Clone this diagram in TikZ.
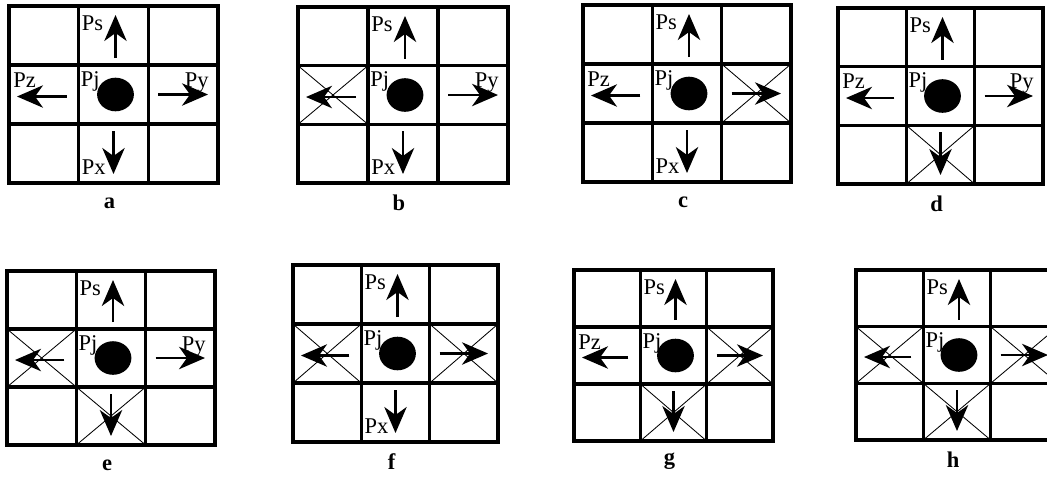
\documentclass[tikz,border=0pt]{standalone}
\usepackage{fontspec}
\setmainfont{Liberation Serif}
\usetikzlibrary{arrows.meta, shapes.geometric}

% one 3x3 panel: #1,#2 top left, #3 width, #4 height, #5 letter,
% #6 left cell blocked, #7 right cell blocked, #8 lower cell blocked
\newcommand{\panel}[8]{%
  \begin{scope}[shift={(#1,#2)}]
    \pgfmathsetmacro{\cw}{#3/3}
    \pgfmathsetmacro{\ch}{#4/3}
    \draw[gridline] (\cw,0) -- (\cw,#4) (2*\cw,0) -- (2*\cw,#4)
      (0,\ch) -- (#3,\ch) (0,2*\ch) -- (#3,2*\ch);
    \draw[frame] (0,0) rectangle (#3,#4);
    % Pj
    \node[dot] (#5-pj) at (1.5*\cw+2, 1.5*\ch) {};
    \node[lab, anchor=north west] (#5-pjl) at (\cw+2, \ch+6) {Pj};
    % Ps
    \node[lab, anchor=north west] (#5-psl) at (\cw+3, 9) {Ps};
    \coordinate (#5-s0) at (1.5*\cw+2, \ch-7);
    \coordinate (#5-s1) at (1.5*\cw+2, 9);
    \draw[move] (#5-s0) -- (#5-s1);
    % Pz
    \ifnum#6=1
      \draw[block] (0,\ch) -- (\cw,2*\ch) (0,2*\ch) -- (\cw,\ch);
    \else
      \node[lab, anchor=north west] (#5-pzl) at (4, \ch+7) {Pz};
    \fi
    \coordinate (#5-z0) at (\cw-12, 1.5*\ch+2);
    \coordinate (#5-z1) at (8, 1.5*\ch+2);
    \draw[move] (#5-z0) -- (#5-z1);
    % Py
    \ifnum#7=1
      \draw[block] (2*\cw,\ch) -- (#3,2*\ch) (2*\cw,2*\ch) -- (#3,\ch);
    \else
      \node[lab, anchor=north east] (#5-pyl) at (#3-9, \ch+7) {Py};
    \fi
    \coordinate (#5-y0) at (2*\cw+10, 1.5*\ch);
    \coordinate (#5-y1) at (#3-10, 1.5*\ch);
    \draw[move] (#5-y0) -- (#5-y1);
    % Px
    \ifnum#8=1
      \draw[block] (\cw,2*\ch) -- (2*\cw,#4) (\cw,#4) -- (2*\cw,2*\ch);
    \else
      \node[lab, anchor=south west] (#5-pxl) at (\cw+3, #4-8) {Px};
    \fi
    \coordinate (#5-x0) at (1.5*\cw, 2*\ch+7);
    \coordinate (#5-x1) at (1.5*\cw, #4-9);
    \draw[move] (#5-x0) -- (#5-x1);
    % caption
    \node[caption] (#5-cap) at (#3/2-4, #4+20) {#5};
  \end{scope}}

\begin{document}
\begin{tikzpicture}[
    x=0.025cm, y=-0.025cm,
    gridline/.style={line width=2.2pt},
    frame/.style={line width=2.6pt},
    block/.style={line width=0.6pt},
    move/.style={line width=1.5pt, -{Stealth[length=6.5mm, width=5.6mm, inset=2mm]}},
    lab/.style={inner sep=0pt, font=\fontsize{16}{18}\selectfont},
    caption/.style={inner sep=0pt, font=\bfseries\fontsize{16}{18}\selectfont},
    dot/.style={ellipse, fill, inner sep=0pt, minimum width=9.2mm, minimum height=8.4mm}
]
    \useasboundingbox (0,0) rectangle (1047,476);
    \clip (0,0) rectangle (1047,476);

    % upper row
    \panel{9}{6}{209}{177}{a}{0}{0}{0}
    \panel{298}{7}{210}{176}{b}{1}{0}{0}
    \panel{583}{5}{208}{177}{c}{0}{1}{0}
    \panel{838}{8}{205}{176}{d}{0}{0}{1}

    % lower row
    \panel{7}{271}{208}{174}{e}{1}{0}{1}
    \panel{293}{265}{205}{177}{f}{1}{1}{0}
    \panel{574}{270}{199}{171}{g}{0}{1}{1}
    \panel{856}{270}{202}{170}{h}{1}{1}{1}

\end{tikzpicture}
\end{document}
